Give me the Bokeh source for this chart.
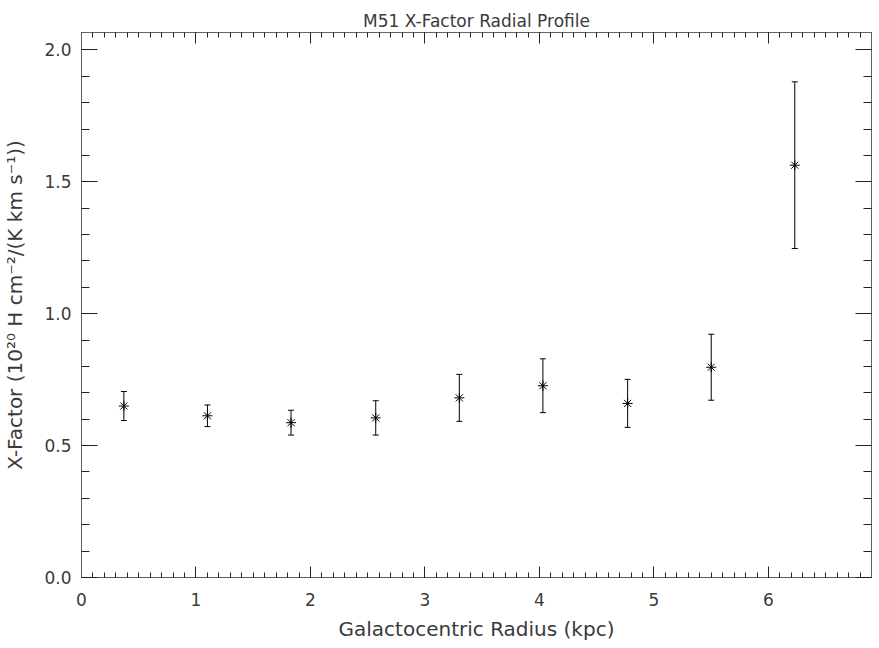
from bokeh.plotting import figure
from bokeh.models import (ColumnDataSource, Range1d, LinearAxis, SingleIntervalTicker,
                          Whisker, TeeHead, NumeralTickFormatter, CustomJSTickFormatter)
from bokeh.embed import file_html
from bokeh.resources import INLINE

# Data
radius_kpc = [0.37, 1.10, 1.83, 2.57, 3.30, 4.03, 4.77, 5.50, 6.23]
x_factor = [0.650, 0.613, 0.587, 0.605, 0.681, 0.727, 0.660, 0.797, 1.563]
x_factor_err = [0.055, 0.041, 0.047, 0.065, 0.089, 0.102, 0.091, 0.125, 0.316]

title_text = "M51 X-Factor Radial Profile"
x_label = "Galactocentric Radius (kpc)"
y_label = "X-Factor (10\u00b2\u2070 H cm\u207b\u00b2/(K km s\u207b\u00b9))"

FONT = "DejaVu Sans"
TXT = "#3a3a3a"
AX = "#606060"

src = ColumnDataSource(dict(
    x=radius_kpc,
    y=x_factor,
    upper=[v + e for v, e in zip(x_factor, x_factor_err)],
    lower=[v - e for v, e in zip(x_factor, x_factor_err)],
))

p = figure(frame_width=790, frame_height=545,
           x_range=Range1d(0, 6.9), y_range=Range1d(0, 2.066),
           output_backend="svg", toolbar_location=None,
           x_axis_location="below", y_axis_location="left",
           min_border_left=81, min_border_right=8, min_border_top=32, min_border_bottom=70)
p.background_fill_color = "white"
p.border_fill_color = "white"
p.grid.visible = False
p.outline_line_color = AX
p.outline_line_width = 1

xt = SingleIntervalTicker(interval=1, num_minor_ticks=10)
yt = SingleIntervalTicker(interval=0.5, num_minor_ticks=5)

def style(ax, tin, mtin):
    ax.axis_line_color = AX
    ax.major_tick_line_color = "#222222"
    ax.minor_tick_line_color = "#222222"
    ax.major_tick_in = tin
    ax.major_tick_out = 0
    ax.minor_tick_in = mtin
    ax.minor_tick_out = 0
    ax.major_label_text_font = FONT
    ax.major_label_text_color = TXT
    ax.major_label_text_font_size = "17px"
    ax.axis_label_text_font = FONT
    ax.axis_label_text_color = TXT
    ax.axis_label_text_font_style = "normal"
    ax.axis_label_text_font_size = "20px"

xa = p.xaxis[0]
xa.ticker = xt
xa.formatter = NumeralTickFormatter(format="0")
xa.axis_label = x_label
style(xa, 11, 5)
xa.major_label_standoff = 15
xa.axis_label_standoff = 8

ya = p.yaxis[0]
ya.ticker = yt
ya.formatter = NumeralTickFormatter(format="0.0")
ya.axis_label = y_label
style(ya, 16, 8)
ya.major_label_standoff = 10
ya.axis_label_standoff = 14

blank = CustomJSTickFormatter(code="return ''")
top = LinearAxis(ticker=SingleIntervalTicker(interval=1, num_minor_ticks=10), formatter=blank)
style(top, 11, 5)
top.major_label_standoff = 0
top.major_label_text_font_size = "0px"
p.add_layout(top, "above")

right = LinearAxis(ticker=SingleIntervalTicker(interval=0.5, num_minor_ticks=5), formatter=blank)
style(right, 16, 8)
right.major_label_standoff = 0
right.major_label_text_font_size = "0px"
p.add_layout(right, "right")

p.title.text = title_text
p.title.align = "center"
p.title.text_font = FONT
p.title.text_font_size = "17px"
p.title.text_font_style = "normal"
p.title.text_color = TXT
p.title.standoff = 3

p.add_layout(Whisker(base="x", upper="upper", lower="lower", source=src,
                     line_color="black", line_width=1,
                     upper_head=TeeHead(size=6, line_color="black", line_width=1),
                     lower_head=TeeHead(size=6, line_color="black", line_width=1)))
p.scatter("x", "y", source=src, marker="asterisk", size=10,
          line_color="black", line_width=1)

open("out.html", "w").write(file_html(p, INLINE))
